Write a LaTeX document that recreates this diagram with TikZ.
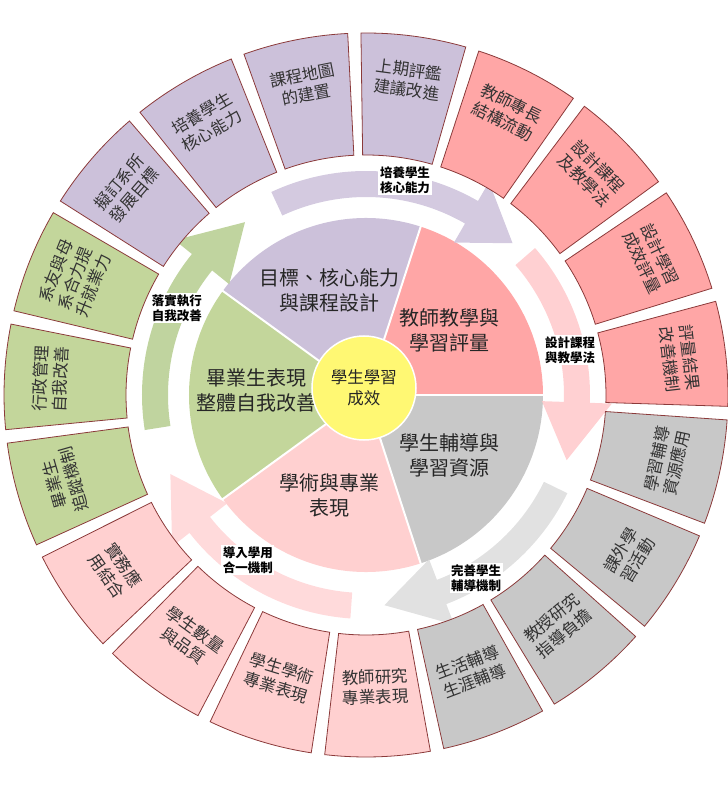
\documentclass[tikz,border=0pt]{standalone}
\usepackage{fontspec}
\setmainfont{Noto Sans CJK TC}
\definecolor{cpur}{HTML}{CCC1DA}
\definecolor{cred}{HTML}{FFA6A6}
\definecolor{cgry}{HTML}{C8C8C8}
\definecolor{cpnk}{HTML}{FFD0D0}
\definecolor{cgrn}{HTML}{C3D69B}
\definecolor{cedge}{HTML}{8B3A3A}
\definecolor{apur}{HTML}{CCC1DA}
\definecolor{ared}{HTML}{FFC8CA}
\definecolor{agry}{HTML}{DCDCDC}
\definecolor{apnk}{HTML}{FFD3D5}
\definecolor{agrn}{HTML}{B5CC8E}
\tikzset{
 tiletext/.style={align=center,font=\fontsize{16.5}{20}\selectfont,text=black!80},
 pietext/.style={align=center,font=\fontsize{20}{25}\selectfont,text=black!85},
 arrlabel/.style={align=center,fill=white,inner sep=1.5pt,font=\fontsize{12.5}{15}\selectfont\bfseries},
 tileedge/.style={draw=cedge,line width=0.8pt}
}
\newcommand{\tile}[6]{% angle, color, text, rotation, radius, name
 \pgfmathsetmacro{\ta}{#1-1.6}
 \pgfmathsetmacro{\tr}{#4-1.6}
 \filldraw[tileedge,fill=#2] (\ta-8.4:240) arc[start angle=\ta-8.4,end angle=\ta+8.4,radius=240]
   -- (\ta+8.4:362) arc[start angle=\ta+8.4,end angle=\ta-8.4,radius=362] -- cycle;
 \node[tiletext,rotate=\tr] (#6) at (\ta:#5) {#3};
}
\newcommand{\carrow}[5]{% start, base, tip, color, name
 \fill[#4,fill opacity=0.85] (#1:198) arc[start angle=#1,end angle=#2,radius=198] -- (#2:176)
   -- (#3:211) coordinate (#5) -- (#2:246) -- (#2:224) arc[start angle=#2,end angle=#1,radius=224] -- cycle;
}
\begin{document}
\begin{tikzpicture}[x=1pt,y=1pt]
\useasboundingbox (-366,-403) rectangle (362,395);
% pie
\fill[cred] (0,0) -- (0:177) arc[start angle=0,end angle=72,radius=177] -- cycle;
\fill[cpur] (0,0) -- (72:177) arc[start angle=72,end angle=144,radius=177] -- cycle;
\fill[cgrn] (0,0) -- (144:177) arc[start angle=144,end angle=216,radius=177] -- cycle;
\fill[cpnk] (0,0) -- (216:177) arc[start angle=216,end angle=288,radius=177] -- cycle;
\fill[cgry] (0,0) -- (288:177) arc[start angle=288,end angle=360,radius=177] -- cycle;
\foreach \a in {0,72,144,216,288} \draw[white,line width=2pt] (0,0) -- (\a:178);
\node[pietext] (p1) at (-36,105) {目標、核心能力\\與課程設計};
\node[pietext] (p2) at (84,65) {教師教學與\\學習評量};
\node[pietext] (p3) at (84,-60) {學生輔導與\\學習資源};
\node[pietext] (p4) at (-36,-100) {學術與專業\\表現};
\node[pietext] (p5) at (-109,5) {畢業生表現\\整體自我改善};
\node[circle,fill=yellow!55,draw=white,line width=1.5pt,minimum size=104pt,align=center,
  font=\fontsize{16.5}{21}\selectfont,text=black!85] (ctr) at (-2,7) {學生學習\\成效};
% arrows
\carrow{115}{60}{46}{apur}{t1}
\carrow{41}{-2}{-18}{ared}{t2}
\carrow{-26}{-69}{-85}{agry}{t3}
\carrow{-94}{-142}{-158}{apnk}{t4}
\carrow{189}{141}{125}{agrn}{t5}
\node[arrlabel] (l1) at (39,215) {培養學生\\核心能力};
\node[arrlabel] (l2) at (204,45) {設計課程\\與教學法};
\node[arrlabel] (l3) at (110,-183) {完善學生\\輔導機制};
\node[arrlabel] (l4) at (-118,-165) {導入學用\\合一機制};
\node[arrlabel] (l5) at (-189,87) {落實執行\\自我改善};
% tiles
\tile{84}{cpur}{上期評鑑\\建議改進}{-6}{318}{b1}
\tile{65.05}{cred}{教師專長\\結構流動}{-24.95}{316}{b2}
\tile{46.1}{cred}{設計課程\\及教學法}{-43.9}{316}{b3}
\tile{27.15}{cred}{設計學習\\成效評量}{-62.85}{316}{b4}
\tile{8.2}{cred}{評量結果\\改善機制}{-81.8}{316}{b5}
\tile{-10.75}{cgry}{學習輔導\\資源應用}{79.25}{308}{b6}
\tile{-29.7}{cgry}{課外學\\習活動}{60.3}{308}{b7}
\tile{-48.65}{cgry}{教授研究\\指導負擔}{41.35}{300}{b8}
\tile{-67.6}{cgry}{生活輔導\\生涯輔導}{22.4}{296}{b9}
\tile{-86.55}{cpnk}{教師研究\\專業表現}{3.45}{292}{b10}
\tile{-105.5}{cpnk}{學生學術\\專業表現}{-15.5}{296}{b11}
\tile{-124.45}{cpnk}{學生數量\\與品質}{-34.45}{300}{b12}
\tile{-143.4}{cpnk}{實務應\\用結合}{-53.4}{306}{b13}
\tile{-162.35}{cgrn}{畢業生\\追蹤機制}{107.65}{314}{b14}
\tile{-181.3}{cgrn}{行政管理\\自我改善}{88.7}{316}{b15}
\tile{-200.25}{cgrn}{系友與母\\系合力提\\升就業力}{69.75}{314}{b16}
\tile{-219.2}{cpur}{擬訂系所\\發展目標}{50.8}{316}{b17}
\tile{-238.15}{cpur}{培養學生\\核心能力}{31.85}{316}{b18}
\tile{-257.1}{cpur}{課程地圖\\的建置}{12.9}{316}{b19}
\end{tikzpicture}
\end{document}
